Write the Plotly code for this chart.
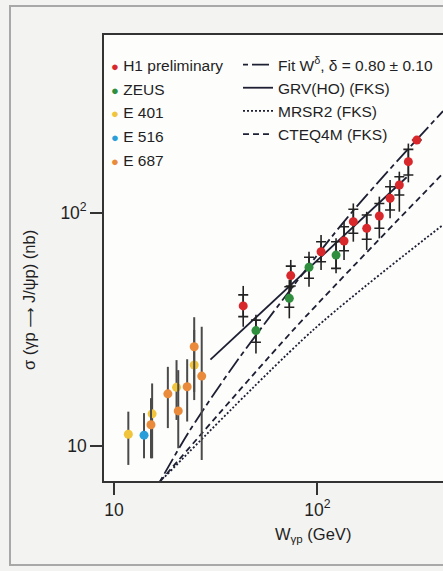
import plotly.graph_objects as go

# ---------------- data ----------------
h1_w = [43.2, 74.0, 104.3, 135.3, 150.3, 174.9, 201.8, 227.9, 253.1, 280.3, 308.5]
h1_s = [39.8, 53.7, 68.0, 75.6, 91.5, 85.7, 96.8, 115.3, 131.5, 165.6, 205.0]
h1_stat_lo = [35.8, 48.5, 61.6, 68.7, 81.6, 76.9, 85.7, 102.7, 119.2, 145.2, 205.0]
h1_stat_hi = [44.4, 59.0, 75.1, 87.1, 103.4, 97.7, 109.6, 129.3, 142.7, 187.0, 205.0]
h1_tot_lo = [32.4, 45.8, 56.8, 62.7, 75.1, 69.2, 77.6, 94.6, 101.0, 135.0, 205.0]
h1_tot_hi = [48.5, 62.7, 80.2, 91.5, 109.6, 100.9, 117.2, 138.1, 150.0, 198.0, 205.0]

zeus_w = [49.9, 72.8, 91.0, 123.6]
zeus_s = [31.2, 42.9, 58.3, 65.8]
zeus_stat_lo = [27.8, 39.3, 52.3, 57.7]
zeus_stat_hi = [34.6, 48.1, 64.4, 75.1]
zeus_tot_lo = [24.9, 35.2, 48.1, 55.0]
zeus_tot_hi = [36.5, 51.4, 68.0, 77.6]

e401_w = [11.76, 15.4, 20.3, 24.8]
e401_s = [11.2, 13.7, 17.8, 22.2]
e401_lo = [8.27, 8.83, 12.9, 15.7]
e401_hi = [14.0, 18.5, 23.3, 31.4]

e516_w = [14.05]
e516_s = [11.1]
e516_lo = [8.83]
e516_hi = [13.8]

e687_w = [15.2, 18.4, 20.7, 22.9, 24.8, 27.0]
e687_s = [12.3, 16.7, 14.1, 17.9, 26.6, 19.9]
e687_lo = [8.83, 11.9, 9.75, 12.7, 17.0, 8.68]
e687_hi = [16.0, 21.8, 21.1, 23.5, 35.6, 32.4]

fit_w = [16.8, 23.7, 41.7, 139.5, 415]
fit_s = [7.0, 11.7, 24.1, 94.6, 273]
grv_w = [29.8, 275]
grv_s = [23.4, 142]
mrsr2_w = [17.8, 95.5, 415]
mrsr2_s = [7.36, 31.4, 88.7]
cteq_w = [16.8, 76.2, 415]
cteq_s = [7.0, 31.4, 147.5]

x_tickvals = [10, 100]
x_ticktext = ["10", "10<sup>2</sup>"]
y_tickvals = [10, 100]
y_ticktext = ["10", "10<sup>2</sup>"]

series_names = ["H1 preliminary", "ZEUS", "E 401", "E 516", "E 687"]
series_colors = ["#d8282c", "#2f8f3e", "#f0c43c", "#2a9ed8", "#e98b3b"]
curve_names = ["Fit W<sup>δ</sup>, δ = 0.80 ± 0.10", "GRV(HO) (FKS)", "MRSR2 (FKS)", "CTEQ4M (FKS)"]

FONT = "Liberation Sans Narrow, Liberation Sans, Arial, sans-serif"
INK = "#1f1f24"
LINEC = "#1d1f33"

fig = go.Figure()

# theory curves
curves = [
    (fit_w, fit_s, "5px,4px,17px,4px"),
    (grv_w, grv_s, "solid"),
    (mrsr2_w, mrsr2_s, "2px,2px"),
    (cteq_w, cteq_s, "6px,4px"),
]
for (w, s, dash), name in zip(curves, curve_names):
    fig.add_trace(go.Scatter(
        x=w, y=s, mode="lines", name=name,
        line=dict(color=LINEC, width=1.8, dash=dash, shape="spline", smoothing=0.8),
        showlegend=True, hoverinfo="skip"))


def diff(a, b):
    return [x - y for x, y in zip(a, b)]


# low-energy experiments: plain vertical error lines
for w, s, lo, hi, col in [
    (e401_w, e401_s, e401_lo, e401_hi, series_colors[2]),
    (e516_w, e516_s, e516_lo, e516_hi, series_colors[3]),
    (e687_w, e687_s, e687_lo, e687_hi, series_colors[4]),
]:
    fig.add_trace(go.Scatter(
        x=w, y=s, mode="markers",
        marker=dict(size=9, color=col),
        error_y=dict(type="data", symmetric=False, array=diff(hi, s), arrayminus=diff(s, lo),
                     color="#4a4a4a", thickness=2, width=0),
        showlegend=False))

# HERA data: total error line + stat ticks
for w, s, slo, shi, tlo, thi, col in [
    (zeus_w, zeus_s, zeus_stat_lo, zeus_stat_hi, zeus_tot_lo, zeus_tot_hi, series_colors[1]),
    (h1_w, h1_s, h1_stat_lo, h1_stat_hi, h1_tot_lo, h1_tot_hi, series_colors[0]),
]:
    fig.add_trace(go.Scatter(
        x=w, y=s, mode="markers", marker=dict(size=1, color="rgba(0,0,0,0)"),
        error_y=dict(type="data", symmetric=False, array=diff(thi, s), arrayminus=diff(s, tlo),
                     color="#222", thickness=1.6, width=0),
        showlegend=False))
    fig.add_trace(go.Scatter(
        x=w, y=s, mode="markers", marker=dict(size=9, color=col),
        error_y=dict(type="data", symmetric=False, array=diff(shi, s), arrayminus=diff(s, slo),
                     color="#222", thickness=1.6, width=5),
        showlegend=False))

# left legend column as text with coloured bullets
W, H = 443, 571
ML, MR, MT, MB = 104, 0, 35, 90
PW, PH = W - ML - MR, H - MT - MB


def px2paper(px, py):
    return (px - ML) / PW, (H - MB - py) / PH


rows_y = [66, 89.5, 113, 136.5, 160]
for name, col, ry in zip(series_names, series_colors, rows_y):
    ax, ay = px2paper(109, ry)
    fig.add_annotation(
        x=ax, y=ay, xref="paper", yref="paper", xanchor="left", yanchor="middle",
        text=f"<span style='color:{col};font-size:13px'>●</span> {name}",
        showarrow=False, font=dict(family=FONT, size=15.5, color=INK))

# axis titles
tx, ty = px2paper(29, 300)
fig.add_annotation(x=tx, y=ty, xref="paper", yref="paper",
                   text="σ (γp <span style='font-family:DejaVu Sans;font-size:14px'>⟶</span> J/ψp) (nb)",
                   textangle=-90, showarrow=False, xanchor="center", yanchor="middle",
                   font=dict(family=FONT, size=16.5, color=INK))
bx, by = px2paper(313, 535)
fig.add_annotation(x=bx, y=by, xref="paper", yref="paper", text="W<sub>γp</sub> (GeV)",
                   showarrow=False, xanchor="center", yanchor="middle",
                   font=dict(family=FONT, size=16.5, color=INK))

# outer frame of the figure panel
fx0, fy0 = px2paper(10, 565)
fx1, fy1 = px2paper(460, 6)
fig.add_shape(type="rect", xref="paper", yref="paper", x0=fx0, y0=fy0, x1=fx1, y1=fy1,
              line=dict(color="#a8a8a8", width=2), layer="below")

lx, ly = px2paper(238, 48)
fig.update_layout(
    width=W, height=H,
    margin=dict(l=ML, r=MR, t=MT, b=MB),
    paper_bgcolor="#f3f3f1", plot_bgcolor="#fdfdfc",
    font=dict(family=FONT, size=15.5, color=INK),
    showlegend=True,
    legend=dict(x=lx, y=ly, xanchor="left", yanchor="top", bgcolor="rgba(0,0,0,0)",
                font=dict(family=FONT, size=15.5, color=INK), itemwidth=30,
                tracegroupgap=0),
    xaxis=dict(type="log", range=[0.9508, 2.618], tickvals=x_tickvals, ticktext=x_ticktext,
               ticks="outside", ticklen=12, tickwidth=1.5, tickcolor="#333",
               showline=True, linecolor="#333", linewidth=1.6, mirror=True,
               showgrid=False, zeroline=False, tickfont=dict(size=17.5, color=INK)),
    yaxis=dict(type="log", range=[0.8485, 2.7627], tickvals=y_tickvals, ticktext=y_ticktext,
               ticks="outside", ticklen=12, tickwidth=1.5, tickcolor="#333",
               showline=True, linecolor="#333", linewidth=1.6, mirror=False,
               showgrid=False, zeroline=False, tickfont=dict(size=17.5, color=INK)),
)

fig.write_html("out.html")
